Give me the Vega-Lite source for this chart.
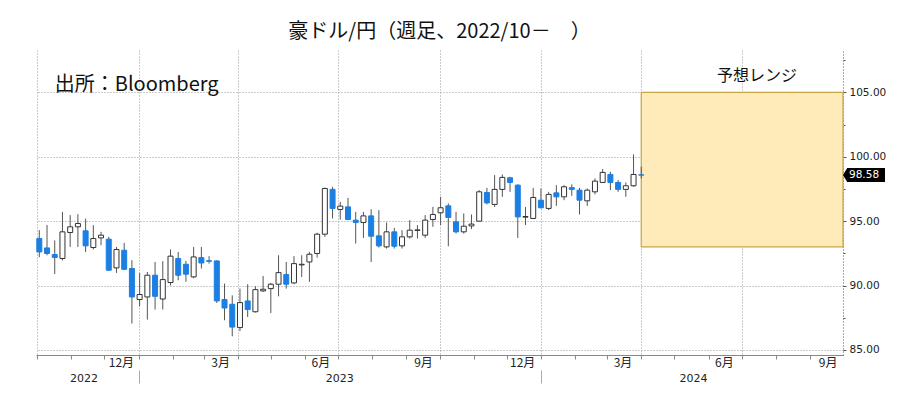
{
  "$schema": "https://vega.github.io/schema/vega-lite/v6.json",
  "autosize": {"type": "none"},
  "width": 807,
  "height": 305,
  "padding": {"left": 36, "top": 50, "right": 60, "bottom": 38},
  "background": "white",
  "view": {"stroke": null},
  "config": {"scale": {"continuousPadding": 0}},
  "title": {"text": "豪ドル/円（週足、2022/10－　）", "fontSize": 20, "font": "Noto Sans CJK JP", "fontWeight": "normal", "anchor": "middle", "offset": 8, "color": "#111"},
  "datasets": {
    "candles": [
      {"d": "2022-10-03T00:00", "o": 93.65, "h": 94.3, "l": 92.2, "c": 92.61},
      {"d": "2022-10-10T00:00", "o": 92.92, "h": 94.7, "l": 92.35, "c": 92.49},
      {"d": "2022-10-17T00:00", "o": 92.41, "h": 93.5, "l": 90.9, "c": 92.18},
      {"d": "2022-10-24T00:00", "o": 92.1, "h": 95.72, "l": 91.95, "c": 94.17},
      {"d": "2022-10-31T00:00", "o": 94.12, "h": 95.47, "l": 93.0, "c": 94.56},
      {"d": "2022-11-07T00:00", "o": 94.56, "h": 95.54, "l": 93.0, "c": 94.82},
      {"d": "2022-11-14T00:00", "o": 94.25, "h": 95.2, "l": 92.6, "c": 93.08},
      {"d": "2022-11-21T00:00", "o": 92.95, "h": 94.69, "l": 92.8, "c": 93.65},
      {"d": "2022-11-28T00:00", "o": 93.7, "h": 94.17, "l": 93.13, "c": 93.91},
      {"d": "2022-12-05T00:00", "o": 93.6, "h": 93.78, "l": 91.13, "c": 91.19},
      {"d": "2022-12-12T00:00", "o": 91.37, "h": 93.0, "l": 90.98, "c": 92.8},
      {"d": "2022-12-19T00:00", "o": 92.74, "h": 93.31, "l": 91.19, "c": 91.26},
      {"d": "2022-12-26T00:00", "o": 91.32, "h": 91.96, "l": 87.04, "c": 89.11},
      {"d": "2023-01-02T00:00", "o": 88.91, "h": 90.98, "l": 88.39, "c": 89.3},
      {"d": "2023-01-09T00:00", "o": 89.11, "h": 91.05, "l": 87.35, "c": 90.8},
      {"d": "2023-01-16T00:00", "o": 90.8, "h": 91.83, "l": 88.13, "c": 89.16},
      {"d": "2023-01-23T00:00", "o": 88.95, "h": 91.89, "l": 88.13, "c": 90.46},
      {"d": "2023-01-30T00:00", "o": 90.23, "h": 92.8, "l": 90.0, "c": 92.28},
      {"d": "2023-02-06T00:00", "o": 92.1, "h": 92.61, "l": 90.41, "c": 90.8},
      {"d": "2023-02-13T00:00", "o": 91.65, "h": 91.91, "l": 90.28, "c": 90.88},
      {"d": "2023-02-20T00:00", "o": 90.67, "h": 93.0, "l": 90.56, "c": 92.22},
      {"d": "2023-02-27T00:00", "o": 92.17, "h": 93.0, "l": 91.32, "c": 91.75},
      {"d": "2023-03-06T00:00", "o": 91.93, "h": 92.28, "l": 91.7, "c": 91.88},
      {"d": "2023-03-13T00:00", "o": 91.91, "h": 91.96, "l": 88.64, "c": 88.8},
      {"d": "2023-03-20T00:00", "o": 88.91, "h": 90.15, "l": 87.3, "c": 88.25},
      {"d": "2023-03-27T00:00", "o": 88.54, "h": 89.24, "l": 86.05, "c": 86.77},
      {"d": "2023-04-03T00:00", "o": 86.73, "h": 89.76, "l": 86.46, "c": 88.67},
      {"d": "2023-04-10T00:00", "o": 88.8, "h": 90.1, "l": 87.55, "c": 88.13},
      {"d": "2023-04-17T00:00", "o": 87.96, "h": 89.94, "l": 87.9, "c": 89.68},
      {"d": "2023-04-24T00:00", "o": 89.58, "h": 90.74, "l": 89.5, "c": 89.71},
      {"d": "2023-05-01T00:00", "o": 89.76, "h": 90.2, "l": 87.86, "c": 90.1},
      {"d": "2023-05-08T00:00", "o": 90.1, "h": 92.35, "l": 89.16, "c": 91.0},
      {"d": "2023-05-15T00:00", "o": 90.85, "h": 91.83, "l": 89.76, "c": 90.1},
      {"d": "2023-05-22T00:00", "o": 90.2, "h": 92.28, "l": 90.1, "c": 91.7},
      {"d": "2023-05-29T00:00", "o": 91.6, "h": 92.35, "l": 90.66, "c": 91.65},
      {"d": "2023-06-05T00:00", "o": 91.83, "h": 92.61, "l": 90.28, "c": 92.43},
      {"d": "2023-06-12T00:00", "o": 92.49, "h": 94.1, "l": 92.17, "c": 93.99},
      {"d": "2023-06-19T00:00", "o": 93.99, "h": 97.6, "l": 93.78, "c": 97.54},
      {"d": "2023-06-26T00:00", "o": 97.47, "h": 97.67, "l": 95.21, "c": 95.99},
      {"d": "2023-07-03T00:00", "o": 95.91, "h": 96.5, "l": 95.13, "c": 96.17},
      {"d": "2023-07-10T00:00", "o": 96.11, "h": 96.81, "l": 95.08, "c": 95.13},
      {"d": "2023-07-17T00:00", "o": 95.08, "h": 95.72, "l": 93.26, "c": 94.9},
      {"d": "2023-07-24T00:00", "o": 94.9, "h": 95.72, "l": 93.7, "c": 95.41},
      {"d": "2023-07-31T00:00", "o": 95.41, "h": 95.93, "l": 91.83, "c": 93.83},
      {"d": "2023-08-07T00:00", "o": 93.86, "h": 95.86, "l": 92.95, "c": 93.08},
      {"d": "2023-08-14T00:00", "o": 93.0, "h": 94.9, "l": 92.87, "c": 94.17},
      {"d": "2023-08-21T00:00", "o": 94.17, "h": 94.48, "l": 92.87, "c": 93.05},
      {"d": "2023-08-28T00:00", "o": 93.08, "h": 94.3, "l": 92.87, "c": 93.78},
      {"d": "2023-09-04T00:00", "o": 93.78, "h": 95.08, "l": 93.65, "c": 94.3},
      {"d": "2023-09-11T00:00", "o": 94.28, "h": 94.69, "l": 93.65, "c": 94.32},
      {"d": "2023-09-18T00:00", "o": 93.91, "h": 95.47, "l": 93.7, "c": 95.08},
      {"d": "2023-09-25T00:00", "o": 95.13, "h": 96.11, "l": 94.56, "c": 95.52},
      {"d": "2023-10-02T00:00", "o": 95.65, "h": 96.89, "l": 94.69, "c": 96.04},
      {"d": "2023-10-09T00:00", "o": 96.19, "h": 96.38, "l": 93.05, "c": 95.29},
      {"d": "2023-10-16T00:00", "o": 94.95, "h": 95.72, "l": 94.04, "c": 94.17},
      {"d": "2023-10-23T00:00", "o": 94.17, "h": 95.6, "l": 94.04, "c": 94.61},
      {"d": "2023-10-30T00:00", "o": 94.63, "h": 95.52, "l": 94.38, "c": 94.77},
      {"d": "2023-11-06T00:00", "o": 95.0, "h": 97.41, "l": 95.0, "c": 97.28},
      {"d": "2023-11-13T00:00", "o": 97.23, "h": 97.59, "l": 96.3, "c": 96.42},
      {"d": "2023-11-20T00:00", "o": 96.3, "h": 98.58, "l": 96.1, "c": 97.47},
      {"d": "2023-11-27T00:00", "o": 97.47, "h": 98.63, "l": 96.89, "c": 98.4},
      {"d": "2023-12-04T00:00", "o": 98.37, "h": 98.45, "l": 97.28, "c": 98.01},
      {"d": "2023-12-11T00:00", "o": 97.8, "h": 97.86, "l": 93.7, "c": 95.33},
      {"d": "2023-12-18T00:00", "o": 95.31, "h": 96.11, "l": 94.69, "c": 95.36},
      {"d": "2023-12-25T00:00", "o": 95.21, "h": 97.59, "l": 95.16, "c": 96.84},
      {"d": "2024-01-01T00:00", "o": 96.63, "h": 97.54, "l": 95.99, "c": 96.04},
      {"d": "2024-01-08T00:00", "o": 95.99, "h": 97.28, "l": 95.86, "c": 97.08},
      {"d": "2024-01-15T00:00", "o": 97.2, "h": 97.8, "l": 96.19, "c": 96.89},
      {"d": "2024-01-22T00:00", "o": 96.89, "h": 97.8, "l": 96.63, "c": 97.67},
      {"d": "2024-01-29T00:00", "o": 97.6, "h": 97.86, "l": 96.97, "c": 97.47},
      {"d": "2024-02-05T00:00", "o": 97.41, "h": 97.59, "l": 95.52, "c": 96.63},
      {"d": "2024-02-12T00:00", "o": 96.58, "h": 97.54, "l": 96.19, "c": 97.41},
      {"d": "2024-02-19T00:00", "o": 97.28, "h": 98.32, "l": 97.08, "c": 98.11},
      {"d": "2024-02-26T00:00", "o": 98.01, "h": 99.05, "l": 98.01, "c": 98.79},
      {"d": "2024-03-04T00:00", "o": 98.63, "h": 98.84, "l": 97.41, "c": 98.01},
      {"d": "2024-03-11T00:00", "o": 98.01, "h": 98.19, "l": 97.28, "c": 97.47},
      {"d": "2024-03-18T00:00", "o": 97.47, "h": 98.01, "l": 96.89, "c": 97.75},
      {"d": "2024-03-25T00:00", "o": 97.75, "h": 100.19, "l": 97.67, "c": 98.63},
      {"d": "2024-04-01T00:00", "o": 98.6, "h": 99.23, "l": 98.32, "c": 98.58}
    ]
  },
  "resolve": {"axis": {"x": "independent", "y": "independent"}},
  "layer": [
    {
      "data": {"values": [{"s": "2024-04-01T00:00", "e": "2024-10-01T00:00", "lo": 93, "hi": 105}]},
      "mark": {"type": "rect", "fill": "#FEEBB9", "stroke": "#C9A447", "strokeWidth": 1.2},
      "encoding": {
        "x": {"field": "s", "type": "temporal", "scale": {"domain": [{"year": 2022, "month": 9, "date": 30}, {"year": 2024, "month": 10, "date": 1}], "nice": false, "padding": 0},
          "axis": {"orient": "bottom", "values": [{"year": 2022, "month": 12, "date": 16}, {"year": 2023, "month": 3, "date": 16}, {"year": 2023, "month": 6, "date": 15}, {"year": 2023, "month": 9, "date": 16}, {"year": 2023, "month": 12, "date": 15}, {"year": 2024, "month": 3, "date": 15}, {"year": 2024, "month": 6, "date": 15}, {"year": 2024, "month": 9, "date": 17}],
            "labelExpr": "(month(datum.value)+1) + '月'", "ticks": false, "tickSize": 0, "domain": false, "grid": false, "labelPadding": 2, "labelFlush": false, "labelOverlap": false, "labelFont": "Noto Sans CJK JP", "labelFontSize": 12, "labelColor": "#222", "title": null}},
        "x2": {"field": "e"},
        "y": {"field": "lo", "type": "quantitative", "scale": {"domain": [84.6, 108.3], "nice": false, "zero": false}, "axis": null},
        "y2": {"field": "hi"}
      }
    },
    {
      "data": {"name": "candles"},
      "mark": {"type": "rule", "color": "#555", "strokeWidth": 1},
      "encoding": {
        "x": {"field": "d", "type": "temporal", "scale": {"domain": [{"year": 2022, "month": 9, "date": 30}, {"year": 2024, "month": 10, "date": 1}], "nice": false, "padding": 0},
          "axis": {"orient": "bottom", "values": [{"year": 2022, "month": 10, "date": 1}, {"year": 2022, "month": 11, "date": 1}, {"year": 2022, "month": 12, "date": 1}, {"year": 2023, "month": 1, "date": 1}, {"year": 2023, "month": 2, "date": 1}, {"year": 2023, "month": 3, "date": 1}, {"year": 2023, "month": 4, "date": 1}, {"year": 2023, "month": 5, "date": 1}, {"year": 2023, "month": 6, "date": 1}, {"year": 2023, "month": 7, "date": 1}, {"year": 2023, "month": 8, "date": 1}, {"year": 2023, "month": 9, "date": 1}, {"year": 2023, "month": 10, "date": 1}, {"year": 2023, "month": 11, "date": 1}, {"year": 2023, "month": 12, "date": 1}, {"year": 2024, "month": 1, "date": 1}, {"year": 2024, "month": 2, "date": 1}, {"year": 2024, "month": 3, "date": 1}, {"year": 2024, "month": 4, "date": 1}, {"year": 2024, "month": 5, "date": 1}, {"year": 2024, "month": 6, "date": 1}, {"year": 2024, "month": 7, "date": 1}, {"year": 2024, "month": 8, "date": 1}, {"year": 2024, "month": 9, "date": 1}],
            "labels": false, "ticks": true, "tickSize": 4, "tickColor": "#888", "domain": true, "domainColor": "#888", "grid": false, "title": null}},
        "y": {"field": "l", "type": "quantitative", "scale": {"domain": [84.6, 108.3], "nice": false, "zero": false},
          "axis": {"orient": "right", "values": [85, 90, 95, 100, 105], "format": ".2f", "grid": true, "gridDash": [1, 2], "gridColor": "#999", "tickSize": 3, "tickColor": "#555", "domain": true, "domainDash": [1, 2], "domainColor": "#555", "labelPadding": 3, "labelFont": "DejaVu Sans", "labelFontSize": 10.5, "labelColor": "#222", "title": null}},
        "y2": {"field": "h"}
      }
    },
    {
      "data": {"name": "candles"},
      "mark": {"type": "bar", "width": 5, "strokeWidth": 1},
      "encoding": {
        "x": {"field": "d", "type": "temporal", "scale": {"domain": [{"year": 2022, "month": 9, "date": 30}, {"year": 2024, "month": 10, "date": 1}], "nice": false, "padding": 0},
          "axis": {"orient": "bottom", "values": [{"year": 2022, "month": 10, "date": 1}, {"year": 2023, "month": 1, "date": 1}, {"year": 2023, "month": 4, "date": 1}, {"year": 2023, "month": 7, "date": 1}, {"year": 2023, "month": 10, "date": 1}, {"year": 2024, "month": 1, "date": 1}, {"year": 2024, "month": 4, "date": 1}, {"year": 2024, "month": 7, "date": 1}],
            "labels": false, "ticks": false, "tickSize": 0, "domain": false, "grid": true, "gridDash": [1, 2], "gridColor": "#999", "title": null}},
        "y": {"field": "o", "type": "quantitative", "scale": {"domain": [84.6, 108.3], "nice": false, "zero": false},
          "axis": {"orient": "right", "values": [87.5, 92.5, 97.5, 102.5, 107.5], "labels": false, "grid": false, "domain": false, "tickSize": 2, "tickColor": "#555", "title": null}},
        "y2": {"field": "c"},
        "fill": {"condition": {"test": "datum.c >= datum.o", "value": "#ffffff"}, "value": "#1B7FE3"},
        "stroke": {"condition": {"test": "datum.c >= datum.o", "value": "#333333"}, "value": "#1B7FE3"}
      }
    },
    {
      "data": {"values": [{"d": "2022-10-17T00:00", "v": 105.6, "t": "出所：Bloomberg"}]},
      "mark": {"type": "text", "align": "left", "baseline": "middle", "font": "Noto Sans CJK JP", "fontSize": 20, "color": "#111"},
      "encoding": {
        "x": {"field": "d", "type": "temporal", "scale": {"domain": [{"year": 2022, "month": 9, "date": 30}, {"year": 2024, "month": 10, "date": 1}], "nice": false, "padding": 0},
          "axis": {"orient": "bottom", "values": [{"year": 2022, "month": 11, "date": 12}, {"year": 2023, "month": 7, "date": 2}, {"year": 2024, "month": 5, "date": 18}],
            "format": "%Y", "ticks": false, "tickSize": 0, "domain": false, "grid": false, "labelPadding": 17, "labelFlush": false, "labelOverlap": false, "labelFont": "DejaVu Sans", "labelFontSize": 11, "labelColor": "#222", "title": null}},
        "y": {"field": "v", "type": "quantitative", "scale": {"domain": [84.6, 108.3], "nice": false, "zero": false}, "axis": null},
        "text": {"field": "t"}
      }
    },
    {
      "data": {"values": [{"d": "2024-07-15T00:00", "v": 106.3, "t": "予想レンジ"}]},
      "mark": {"type": "text", "align": "center", "baseline": "middle", "font": "Noto Sans CJK JP", "fontSize": 16, "color": "#111"},
      "encoding": {
        "x": {"field": "d", "type": "temporal", "scale": {"domain": [{"year": 2022, "month": 9, "date": 30}, {"year": 2024, "month": 10, "date": 1}], "nice": false, "padding": 0},
          "axis": {"orient": "bottom", "values": [{"year": 2023, "month": 1, "date": 1}, {"year": 2024, "month": 1, "date": 1}], "labels": false, "ticks": true, "tickSize": 13, "tickColor": "#aaa", "offset": 15, "domain": false, "grid": false, "title": null}},
        "y": {"field": "v", "type": "quantitative", "scale": {"domain": [84.6, 108.3], "nice": false, "zero": false}, "axis": null},
        "text": {"field": "t"}
      }
    },
    {
      "data": {"values": [{"d": "2024-10-01T00:00", "v": 98.58, "t": "98.58"}]},
      "mark": {"type": "point", "shape": "M0,0L0.3,-0.5L3,-0.5L3,0.5L0.3,0.5Z", "size": 784, "filled": true, "color": "#000", "opacity": 1},
      "encoding": {
        "x": {"field": "d", "type": "temporal", "scale": {"domain": [{"year": 2022, "month": 9, "date": 30}, {"year": 2024, "month": 10, "date": 1}], "nice": false, "padding": 0}, "axis": null},
        "y": {"field": "v", "type": "quantitative", "scale": {"domain": [84.6, 108.3], "nice": false, "zero": false}, "axis": null}
      }
    },
    {
      "data": {"values": [{"d": "2024-10-01T00:00", "v": 98.58, "t": "98.58"}]},
      "mark": {"type": "text", "align": "left", "baseline": "middle", "dx": 6, "font": "DejaVu Sans", "fontSize": 10.5, "color": "#fff"},
      "encoding": {
        "x": {"field": "d", "type": "temporal", "scale": {"domain": [{"year": 2022, "month": 9, "date": 30}, {"year": 2024, "month": 10, "date": 1}], "nice": false, "padding": 0}, "axis": null},
        "y": {"field": "v", "type": "quantitative", "scale": {"domain": [84.6, 108.3], "nice": false, "zero": false}, "axis": null},
        "text": {"field": "t"}
      }
    }
  ]
}
